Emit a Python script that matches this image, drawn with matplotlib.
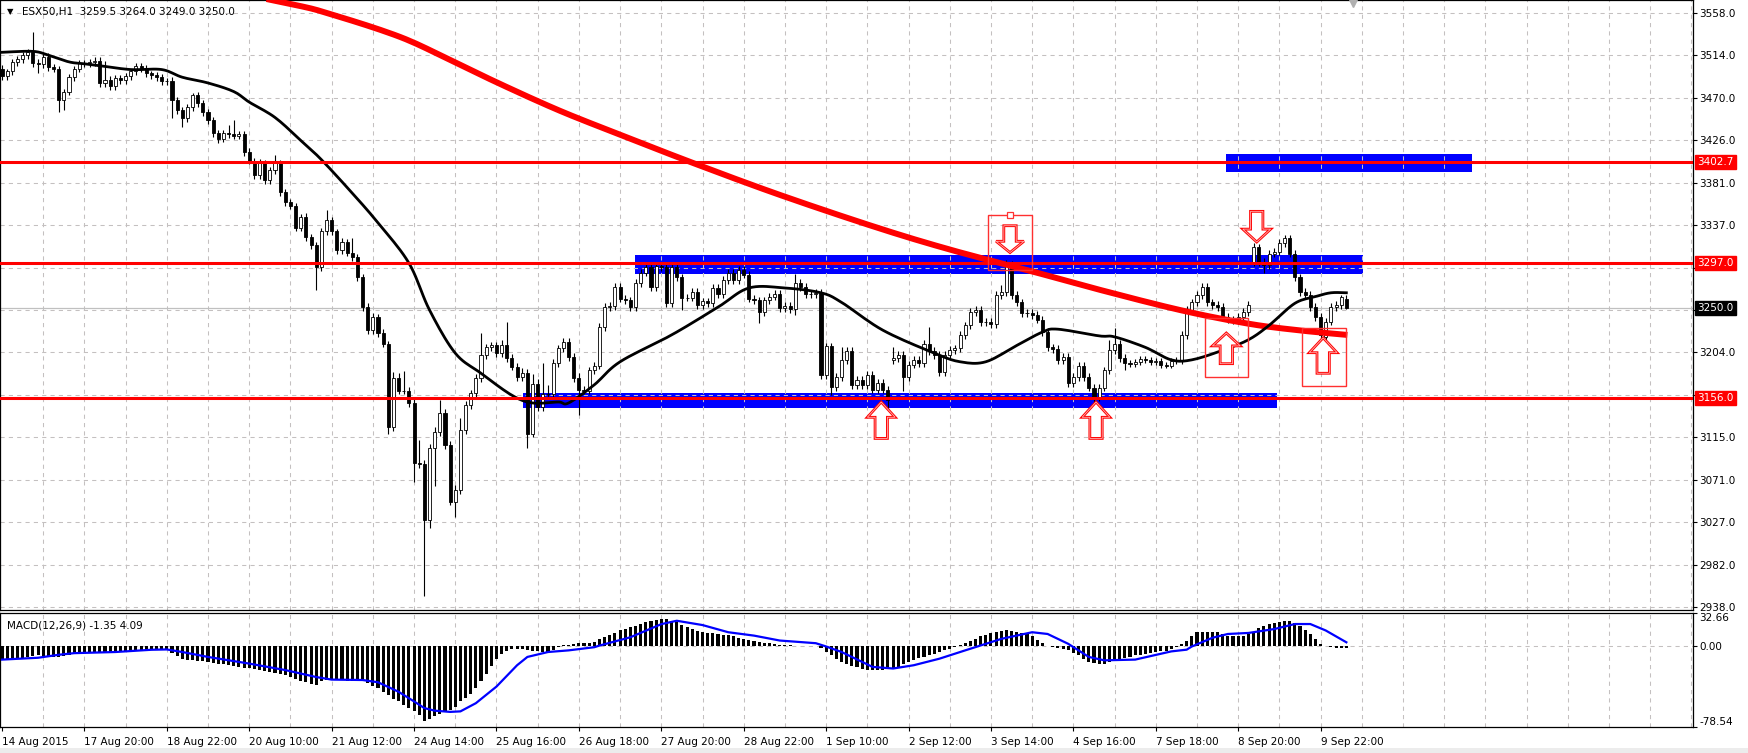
import numpy as np
import matplotlib
matplotlib.use('Agg')
import matplotlib.pyplot as plt
from matplotlib.patches import Rectangle, Polygon
from matplotlib.transforms import blended_transform_factory

# ESX50 H1 candles, one value per bar
closes = [
    3492, 3497, 3507, 3510, 3514, 3517, 3506, 3505, 3512, 3502,
    3500, 3467, 3476, 3491, 3500, 3506, 3506, 3507, 3508, 3485,
    3488, 3482, 3490, 3488, 3492, 3497, 3503, 3500, 3495, 3493,
    3491, 3487, 3487, 3467, 3457, 3448, 3460, 3472, 3464, 3455,
    3446, 3433, 3427, 3433, 3432, 3430, 3432, 3413, 3404, 3389,
    3401, 3384, 3394, 3401, 3371, 3361, 3357, 3334, 3345, 3324,
    3316, 3293, 3330, 3342, 3330, 3311, 3319, 3308, 3303, 3282,
    3251, 3227, 3241, 3224, 3213, 3126, 3177, 3164, 3164, 3151,
    3088, 3087, 3029, 3104, 3121, 3141, 3107, 3048, 3060, 3123,
    3149, 3161, 3177, 3201, 3209, 3211, 3203, 3212, 3198, 3189,
    3178, 3182, 3119, 3171, 3147, 3160, 3160, 3193, 3208, 3215,
    3199, 3177, 3165, 3164, 3185, 3190, 3230, 3251, 3252, 3272,
    3260, 3258, 3251, 3276, 3287, 3293, 3272, 3294, 3293, 3255,
    3293, 3282, 3261, 3261, 3267, 3253, 3257, 3255, 3271, 3265,
    3279, 3287, 3279, 3290, 3285, 3260, 3258, 3246, 3258, 3262,
    3265, 3250, 3252, 3249, 3276, 3272, 3265, 3265, 3266, 3180,
    3210, 3168, 3178, 3196, 3205, 3170, 3175, 3170, 3180, 3165,
    3172, 3165, 3154, 3198, 3201, 3178, 3191, 3196, 3193, 3213,
    3205, 3201, 3183, 3201, 3206, 3208, 3222, 3232, 3246, 3248,
    3235, 3236, 3233, 3264, 3267, 3295, 3264, 3256, 3245, 3245,
    3243, 3238, 3225, 3209, 3207, 3196, 3199, 3172, 3178, 3190,
    3178, 3167, 3157, 3167, 3185, 3206, 3213, 3198, 3193, 3192,
    3194, 3197, 3196, 3194, 3195, 3191, 3190, 3195, 3196, 3222,
    3248, 3256, 3264, 3272, 3256, 3253, 3251, 3241, 3238, 3237,
    3241, 3246, 3253, 3314, 3298, 3295, 3307, 3309, 3318, 3323,
    3307, 3282, 3267, 3264, 3251, 3241, 3222, 3236, 3251, 3253,
    3262, 3250,
]
# opens where the bar did not start at the previous close (session gaps)
gap_opens = {0: 3500, 173: 3196, 243: 3298, 257: 3220, 261: 3259.5}
wick_up = [
    4, 3, 3, 3, 3, 3, 21, 4, 3, 4,
    3, 3, 3, 3, 3, 3, 3, 3, 4, 4,
    20, 4, 3, 3, 3, 3, 3, 3, 4, 3,
    3, 3, 3, 4, 3, 3, 3, 3, 4, 3,
    3, 3, 3, 3, 8, 14, 3, 3, 4, 3,
    5, 4, 3, 9, 4, 3, 3, 3, 3, 4,
    3, 3, 4, 10, 3, 3, 4, 3, 15, 3,
    4, 4, 4, 3, 4, 3, 6, 5, 20, 4,
    4, 24, 4, 4, 5, 13, 4, 4, 5, 12,
    4, 4, 4, 23, 4, 4, 4, 5, 23, 4,
    4, 5, 4, 10, 5, 33, 10, 4, 4, 4,
    4, 4, 5, 4, 4, 4, 4, 4, 4, 4,
    4, 4, 4, 4, 4, 4, 4, 4, 4, 4,
    4, 4, 4, 4, 4, 4, 4, 4, 4, 4,
    4, 4, 4, 4, 4, 4, 4, 4, 4, 4,
    4, 4, 4, 4, 10, 4, 4, 4, 4, 4,
    4, 4, 4, 13, 4, 4, 4, 4, 4, 4,
    4, 4, 4, 11, 4, 4, 4, 4, 4, 4,
    17, 4, 4, 4, 4, 4, 4, 4, 4, 4,
    4, 4, 4, 4, 7, 5, 4, 4, 4, 4,
    4, 4, 4, 4, 4, 4, 4, 4, 4, 4,
    4, 4, 4, 4, 4, 11, 16, 4, 4, 3,
    3, 3, 3, 3, 3, 3, 3, 3, 3, 4,
    4, 4, 4, 4, 4, 4, 4, 4, 4, 4,
    4, 4, 4, 4, 3, 4, 4, 4, 4, 3,
    3, 4, 4, 4, 4, 4, 4, 4, 4, 4,
    2, 4.5,
]
wick_dn = [
    4, 4, 4, 4, 4, 4, 4, 10, 4, 4,
    4, 12, 10, 4, 4, 4, 4, 4, 4, 4,
    4, 4, 4, 4, 4, 4, 4, 4, 4, 4,
    4, 4, 4, 19, 4, 9, 4, 4, 4, 4,
    4, 4, 5, 4, 4, 4, 4, 4, 4, 4,
    4, 4, 4, 4, 4, 4, 4, 4, 4, 4,
    4, 24, 4, 4, 4, 4, 4, 4, 4, 4,
    4, 4, 4, 4, 4, 7, 4, 4, 4, 4,
    20, 4, 79, 8, 40, 4, 4, 4, 16, 4,
    4, 4, 4, 4, 4, 4, 4, 4, 4, 4,
    4, 4, 15, 4, 4, 4, 4, 4, 4, 4,
    4, 4, 27, 4, 4, 4, 4, 4, 4, 4,
    4, 4, 4, 4, 4, 4, 4, 4, 4, 4,
    4, 4, 13, 4, 4, 4, 4, 4, 4, 4,
    4, 4, 4, 4, 4, 4, 4, 12, 4, 4,
    4, 4, 4, 4, 6, 4, 4, 4, 4, 4,
    4, 9, 4, 4, 4, 4, 4, 4, 4, 4,
    4, 4, 10, 4, 4, 14, 4, 4, 4, 4,
    4, 4, 4, 4, 4, 4, 4, 4, 4, 4,
    4, 4, 4, 4, 4, 4, 4, 4, 4, 4,
    4, 4, 4, 4, 4, 4, 4, 4, 4, 4,
    4, 4, 6, 4, 4, 4, 4, 4, 8, 3,
    3, 3, 3, 3, 3, 3, 3, 3, 3, 4,
    4, 4, 4, 4, 4, 4, 4, 4, 4, 4,
    4, 4, 4, 4, 4, 8, 4, 4, 4, 4,
    4, 4, 4, 4, 4, 4, 4, 4, 4, 4,
    4, 1,
]

# moving averages, sampled along the drawn lines (bar index, price)
ma_fast_bars = [0, 6, 9, 13, 16, 19, 25, 31, 35, 40, 45, 48, 53, 58, 62, 68, 73, 79, 83, 88,
                93, 99, 103, 108, 110, 115, 120, 130, 139, 145, 152, 159, 163, 171, 181, 186,
                191, 197, 202, 205, 213, 216, 222, 227, 231, 237, 242, 246, 251, 255, 258, 261]
ma_fast_vals = [3517, 3518, 3514, 3507, 3505, 3503, 3499, 3499, 3491, 3485, 3476, 3465, 3449,
                3425, 3405, 3370, 3339, 3297, 3248, 3203, 3182, 3159, 3151, 3152, 3151, 3170,
                3194, 3222, 3251, 3271, 3271, 3266, 3256, 3227, 3203, 3194, 3194, 3211, 3225,
                3228, 3221, 3220, 3209, 3196, 3196, 3206, 3217, 3232, 3255, 3262, 3266, 3266]
ma_slow_bars = [0, 30, 55.5, 64.3, 77.3, 87, 96.7, 108.3, 120, 134.4, 151.1, 169.9, 184.1,
                200.2, 213.2, 228.7, 241.7, 251.5, 261.2]
ma_slow_vals = [3612, 3594, 3568, 3556, 3533, 3509, 3484, 3456, 3431, 3401, 3368, 3334, 3311,
                3288, 3269, 3248, 3234, 3227, 3222]

# MACD histogram per bar and signal line
macd_hist = [
    -13.6, -13.2, -12.8, -11.9, -11.1, -10.2, -9.4, -8.5, -8.9, -9.4,
    -9.8, -10.2, -9.4, -8.5, -7.2, -6.8, -6.4, -6.0, -6.0, -5.8,
    -5.6, -5.4, -5.4, -5.1, -4.7, -4.3, -3.8, -3.4, -3.1, -2.9,
    -2.9, -2.9, -2.9, -6.0, -9.4, -11.9, -12.8, -13.6, -14.0, -14.5,
    -15.1, -15.7, -16.6, -17.4, -18.3, -19.1, -20.0, -20.8, -21.3, -22.1,
    -23.0, -23.8, -24.7, -25.5, -26.8, -28.0, -29.8, -31.5, -33.2, -34.9,
    -36.6, -37.4, -34.0, -32.7, -32.3, -32.3, -32.7, -33.2, -33.6, -34.0,
    -34.0, -35.7, -38.3, -40.8, -44.2, -47.6, -51.0, -53.6, -57.0, -60.4,
    -63.3, -67.2, -72.3, -70.6, -68.0, -66.3, -63.8, -61.7, -58.7, -53.6,
    -50.2, -45.9, -40.8, -34.0, -26.4, -18.7, -11.9, -7.7, -4.3, -2.6,
    -2.2, -2.6, -3.8, -4.3, -4.7, -5.1, -5.4, -3.4, -0.9, 1.7,
    1.7, 2.6, 3.0, 3.4, 3.8, 4.3, 7.4, 9.4, 11.5, 13.6,
    15.7, 17.4, 18.7, 20.4, 22.1, 23.4, 24.7, 25.9, 26.7, 26.4,
    24.7, 23.5, 21.3, 18.7, 17.0, 15.3, 13.9, 13.2, 12.8, 12.3,
    11.5, 11.2, 10.2, 8.5, 7.2, 6.4, 5.8, 4.7, 3.8, 3.0,
    2.1, 1.7, 1.3, 1.0, 0.9, 0.9, 0.9, 0.9, 0.9, -1.7,
    -5.4, -8.5, -11.9, -15.1, -17.0, -18.7, -20.4, -21.7, -22.5, -23.0,
    -23.0, -22.5, -22.1, -21.5, -19.6, -17.4, -14.9, -12.8, -11.1, -9.8,
    -8.5, -7.2, -5.4, -3.8, -2.1, -0.4, 1.3, 3.4, 5.5, 7.7,
    9.8, 11.5, 13.2, 14.5, 15.3, 15.7, 15.3, 14.5, 13.2, 11.9,
    10.6, 6.8, 3.4, 0.9, -0.4, -1.7, -2.6, -3.8, -6.0, -8.5,
    -11.9, -15.1, -16.2, -16.7, -16.6, -15.3, -13.6, -12.3, -11.1, -10.2,
    -8.7, -8.1, -7.2, -6.4, -5.5, -4.7, -4.3, -2.6, -0.9, 2.5,
    5.7, 10.5, 14.5, 14.5, 14.5, 14.5, 14.5, 12.2, 10.5, 10.5,
    10.5, 10.5, 12.2, 14.5, 17.7, 20.3, 21.9, 23.0, 24.2, 25.2,
    25.2, 22.8, 19.6, 15.6, 12.2, 7.3, 2.5, 0.9, -0.9, -1.4,
    -1.4, -1.35,
]
signal_bars = [0, 7, 11, 14, 22, 29, 32, 35, 40, 48, 55, 61, 64, 70, 73, 77, 80, 82, 84, 87,
               89, 92, 96, 100, 102, 106, 110, 115, 116, 122, 128, 131, 136, 141, 146, 151,
               158, 160, 163, 169, 173, 177, 182, 187, 194, 200, 203, 207, 211, 214, 220, 227,
               230, 231, 235, 238, 242, 247, 251, 254, 257, 261]
signal_vals = [-12.8, -11.0, -8.1, -6.5, -5.4, -3.2, -2.9, -5.4, -10.2, -16.7, -23.0, -29.8,
               -32.3, -32.7, -34.9, -44.2, -53.6, -60.1, -62.6, -63.8, -63.3, -55.3, -39.1,
               -18.3, -10.2, -5.4, -3.8, -0.7, 0.9, 9.0, 21.8, 25.1, 20.9, 13.9, 10.6, 5.8,
               3.2, 0.0, -5.4, -19.9, -21.5, -18.3, -11.9, -3.8, 7.4, 13.9, 12.2, 2.6, -10.2,
               -13.5, -12.8, -4.8, -3.1, 0.0, 8.5, 12.2, 13.2, 17.0, 21.9, 21.9, 15.6, 4.09]

# chart objects
levels = [3402.7, 3297.0, 3156.0]
zone_from = [122.9, 101.2, 237.7]
zone_to = [264.3, 247.6, 285.4]
zone_lo = [3286, 3146, 3392]
zone_hi = [3305, 3161, 3411]
box_from = [191.5, 233.6, 252.4]
box_to = [200.0, 242.0, 261.0]
box_lo = [3290, 3178, 3169]
box_hi = [3347, 3240, 3229]
arrow_bar = [195.7, 243.6, 237.7, 256.5, 170.7, 212.4]
arrow_tip = [3308, 3319, 3224, 3219, 3152, 3152]
arrow_tail = [3336, 3351, 3192, 3182, 3114, 3114]

label_bars = list(range(0, 257, 16))
label_text = ["14 Aug 2015", "17 Aug 20:00", "18 Aug 22:00", "20 Aug 10:00", "21 Aug 12:00",
              "24 Aug 14:00", "25 Aug 16:00", "26 Aug 18:00", "27 Aug 20:00", "28 Aug 22:00",
              "1 Sep 10:00", "2 Sep 12:00", "3 Sep 14:00", "4 Sep 16:00", "7 Sep 18:00",
              "8 Sep 20:00", "9 Sep 22:00"]
price_ticks = [2938.0, 2982.3, 3026.6, 3070.9, 3115.1, 3159.4, 3203.7, 3248.0, 3292.3,
               3336.6, 3380.9, 3425.1, 3469.4, 3513.7, 3558.0]
# labels hidden behind the level / price boxes are left empty
price_labels = ["2938.0", "2982.0", "3027.0", "3071.0", "3115.0", "", "3204.0",
                "", "", "3337.0", "3381.0", "3426.0", "3470.0", "3514.0", "3558.0"]


def smooth_line(xs, ys, k=10):
    # Catmull-Rom curve through the sampled vertices, only for drawing
    p = np.column_stack([xs, ys]).astype(float)
    p = np.vstack([p[0], p, p[-1]])
    out = []
    for i in range(1, len(p) - 2):
        p0, p1, p2, p3 = p[i - 1], p[i], p[i + 1], p[i + 2]
        for t in np.linspace(0, 1, k, endpoint=False):
            out.append(0.5 * (2 * p1 + (-p0 + p2) * t + (2 * p0 - 5 * p1 + 4 * p2 - p3) * t * t
                              + (-p0 + 3 * p1 - 3 * p2 + p3) * t ** 3))
    out.append(p[-2])
    out = np.array(out)
    return out[:, 0], out[:, 1]


opens = [closes[0]] + closes[:-1]
for k, v in gap_opens.items():
    opens[k] = v
n = len(closes)
idx = list(range(n))
top_body = [max(o, c) for o, c in zip(opens, closes)]
bot_body = [min(o, c) for o, c in zip(opens, closes)]
highs = [t + w for t, w in zip(top_body, wick_up)]
lows = [b - w for b, w in zip(bot_body, wick_dn)]

W, H = 1749, 753
fig = plt.figure(figsize=(W / 100, H / 100), dpi=100)
fig.patch.set_facecolor('white')
ax = fig.add_axes([0, 1 - 610 / H, 1693 / W, 610 / H])
axm = fig.add_axes([0, 1 - 727 / H, 1693 / W, 114 / H])

gridc = '#c4c0c0'
xmin, xmax = -0.39, 328.3
for a in (ax, axm):
    a.set_xlim(xmin, xmax)
    for s in a.spines.values():
        s.set_color('black')
        s.set_linewidth(0.9)
    for v in range(8, 329, 8):
        a.axvline(v, color=gridc, lw=0.75, ls=(0, (4, 4)), zorder=1.5)

ax.set_ylim(2934.9, 3571.6)
axm.set_ylim(-78.54, 32.66)

# background zones
for x0, x1, lo, hi in zip(zone_from, zone_to, zone_lo, zone_hi):
    ax.add_patch(Rectangle((x0, lo), x1 - x0, hi - lo, facecolor='#0000ff',
                           edgecolor='none', zorder=1))
for p in price_ticks:
    ax.axhline(p, color=gridc, lw=0.75, ls=(0, (4, 4)), zorder=1.5)
ax.axhline(3250.0, color='#c0c0c0', lw=0.9, zorder=1.6)

# candles
up = [c >= o for o, c in zip(opens, closes)]
ax.vlines(idx, lows, highs, color='black', lw=0.8, zorder=3)
ax.bar(idx, [t - b for t, b in zip(top_body, bot_body)], bottom=bot_body, width=0.6,
       color=['white' if u else 'black' for u in up], edgecolor='black', linewidth=0.6,
       zorder=3.2)

# moving averages
sx, sy = smooth_line(ma_slow_bars, ma_slow_vals)
ax.plot(sx, sy, color='#ff0000', lw=4.3, solid_capstyle='butt', zorder=4)
fx, fy = smooth_line(ma_fast_bars, ma_fast_vals)
ax.plot(fx, fy, color='black', lw=2.0, zorder=4.2)

# horizontal levels
for lv in levels:
    ax.axhline(lv, color='#ff0000', lw=2.2, zorder=4.5)

# boxes and arrows
for x0, x1, lo, hi in zip(box_from, box_to, box_lo, box_hi):
    ax.add_patch(Rectangle((x0, lo), x1 - x0, hi - lo, facecolor='none',
                           edgecolor='#ff3030', lw=1.0, zorder=5))
ax.plot([(box_from[0] + box_to[0]) / 2], [box_hi[0]], marker='s', ms=4, mfc='white',
        mec='#ff3030', mew=0.9, zorder=5.5)

hw, sw = 2.7, 1.2
for b, tip, tail in zip(arrow_bar, arrow_tip, arrow_tail):
    neck = tip + 0.42 * (tail - tip)
    pts = [(b, tip), (b + hw, neck), (b + sw, neck), (b + sw, tail),
           (b - sw, tail), (b - sw, neck), (b - hw, neck)]
    ax.add_patch(Polygon(pts, closed=True, facecolor='white', edgecolor='#ff0000',
                         lw=2.0, joinstyle='miter', zorder=6))
    ax.add_patch(Polygon(pts, closed=True, facecolor='none', edgecolor='#ffb0b0',
                         lw=0.6, joinstyle='miter', zorder=6.1))

# price axis
ax.yaxis.tick_right()
ax.set_yticks(price_ticks)
ax.set_yticklabels(price_labels)
ax.tick_params(axis='y', direction='out', length=3, width=0.8, pad=1.5, labelsize=7.5)
ax.tick_params(axis='x', bottom=False, labelbottom=False)

trans = blended_transform_factory(ax.transAxes, ax.transData)
for lv in levels:
    ax.text(1.0026, lv, f"{lv:.1f}", transform=trans, fontsize=7.5, color='white',
            va='center', ha='left', clip_on=False, zorder=10,
            bbox=dict(boxstyle='square,pad=0.2', fc='#ff0000', ec='#ff0000'))
ax.text(1.0026, closes[-1], f"{closes[-1]:.1f}", transform=trans, fontsize=7.5,
        color='white', va='center', ha='left', clip_on=False, zorder=10,
        bbox=dict(boxstyle='square,pad=0.2', fc='black', ec='black'))

ax.text(7 / 1693, 0.981, '\u25bc', transform=ax.transAxes, fontsize=6, va='center',
        ha='left', zorder=10)
ax.text(22 / 1693, 0.980, 'ESX50,H1  3259.5 3264.0 3249.0 3250.0', transform=ax.transAxes,
        fontsize=7.5, va='center', ha='left', zorder=10)

# chart shift marker
ax.plot([262.2], [3569.5], marker='v', ms=7, color='#b0b0b0', clip_on=False, zorder=10)

# MACD window
axm.axhline(0, color=gridc, lw=0.75, ls=(0, (4, 4)), zorder=1.5)
axm.bar(idx, macd_hist, width=0.6, color='black', zorder=3)
axm.plot(signal_bars, signal_vals, color='#0000ff', lw=1.6, zorder=4)
axm.text(7 / 1693, 0.886, 'MACD(12,26,9) -1.35 4.09', transform=axm.transAxes,
         fontsize=7.5, va='center', ha='left')

axm.yaxis.tick_right()
axm.set_yticks([32.66, 0.0, -78.54])
axm.set_yticklabels(['32.66', '0.00', '-78.54'])
axm.tick_params(axis='y', direction='out', length=3, width=0.8, pad=1.5, labelsize=7.5)
ylabs = axm.get_yticklabels()
ylabs[0].set_va('top')
ylabs[2].set_va('bottom')

axm.set_xticks(label_bars)
axm.set_xticklabels(label_text, ha='left')
axm.tick_params(axis='x', direction='out', length=3, width=0.8, pad=4, labelsize=7.5)

fig.patches.append(Rectangle((0, 0), 1, 5 / H, transform=fig.transFigure,
                             facecolor='#ececec', edgecolor='none'))

fig.savefig('out.png', dpi=100)
